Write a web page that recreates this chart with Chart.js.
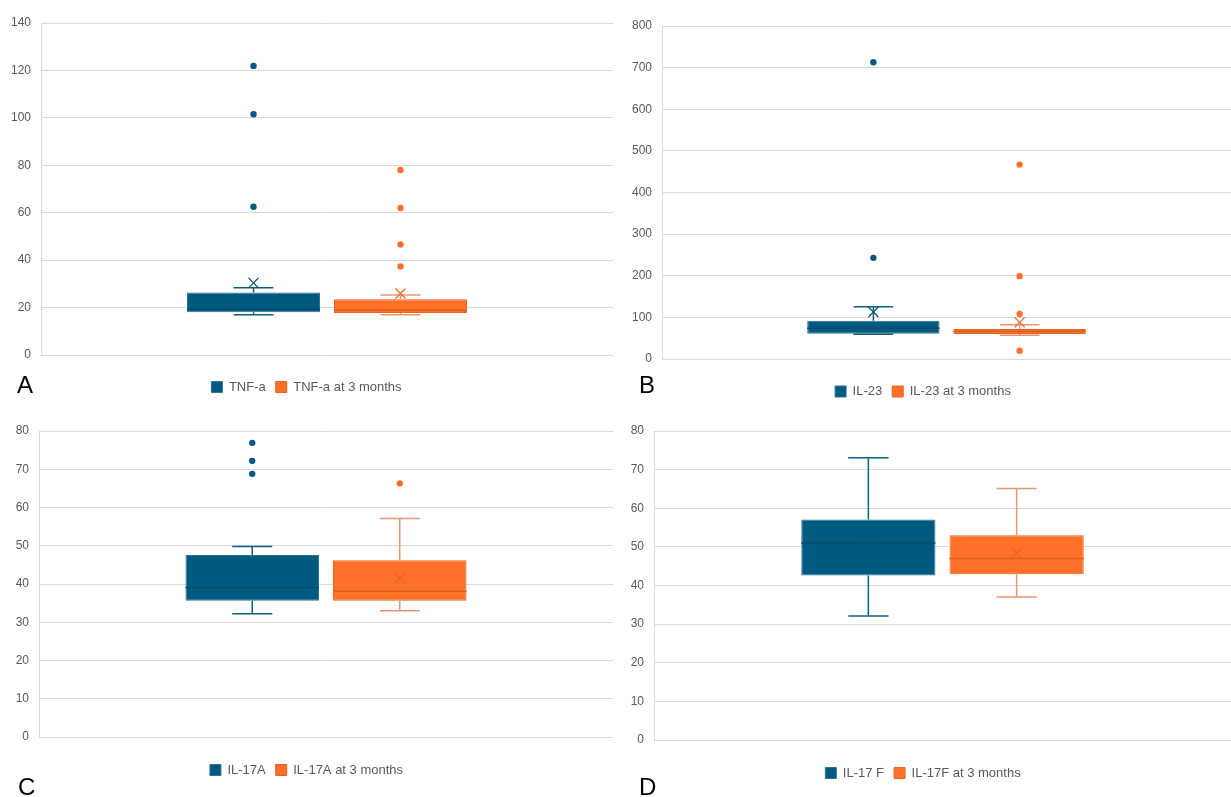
<!DOCTYPE html>
<html>
<head>
<meta charset="utf-8">
<script src="https://cdn.jsdelivr.net/npm/chart.js@4.4.1/dist/chart.umd.min.js"></script>
<style>
  body { margin: 0; background: #fff; width: 1231px; height: 797px; overflow: hidden; position: relative; }
  .panel { position: absolute; }
  .letter { position: absolute; font: 24px "Liberation Sans", Arial, sans-serif; line-height: 24px; color: #000; }
</style>
</head>
<body>
<div class="panel" style="left:0;top:0;width:615px;height:408px"><canvas id="chartA"></canvas></div>
<div class="panel" style="left:615px;top:0;width:616px;height:408px"><canvas id="chartB"></canvas></div>
<div class="panel" style="left:0;top:400px;width:615px;height:397px"><canvas id="chartC"></canvas></div>
<div class="panel" style="left:615px;top:400px;width:616px;height:397px"><canvas id="chartD"></canvas></div>
<div class="letter" style="left:17px;top:373px">A</div>
<div class="letter" style="left:639px;top:373px">B</div>
<div class="letter" style="left:18px;top:775px">C</div>
<div class="letter" style="left:639px;top:775px">D</div>
<script>
// A: TNF-a
const tnfLabels = ['TNF-a', 'TNF-a at 3 months'];
const tnfMin = [17.0, 17.0];
const tnfQ1 = [18.0, 17.7];
const tnfMedian = [19.4, 18.9];
const tnfQ3 = [26.4, 23.5];
const tnfMax = [28.4, 25.3];
const tnfMean = [30.4, 25.9];
const tnfOutliers = [[62.5, 101.5, 121.9], [37.3, 46.6, 62.0, 78.0]];

// B: IL-23
const il23Labels = ['IL-23', 'IL-23 at 3 months'];
const il23Min = [59.2, 56.8];
const il23Q1 = [60.8, 60.0];
const il23Median = [73.6, 66.4];
const il23Q3 = [92.0, 72.0];
const il23Max = [125.6, 82.4];
const il23Mean = [112.8, 88.0];
const il23Outliers = [[243, 713], [20, 108, 199, 467]];

// C: IL-17A
const il17aLabels = ['IL-17A', 'IL-17A at 3 months'];
const il17aMin = [32.2, 33.0];
const il17aQ1 = [35.6, 35.6];
const il17aMedian = [39.1, 38.1];
const il17aQ3 = [47.6, 46.2];
const il17aMax = [49.8, 57.1];
const il17aMean = [43.6, 41.5];
const il17aOutliers = [[68.8, 72.2, 76.9], [66.3]];

// D: IL-17F
const il17fLabels = ['IL-17 F', 'IL-17F at 3 months'];
const il17fMin = [32.1, 37.0];
const il17fQ1 = [42.6, 42.9];
const il17fMedian = [51.0, 47.0];
const il17fQ3 = [57.1, 53.0];
const il17fMax = [73.1, 65.1];
const il17fMean = [51.1, 48.4];
const il17fOutliers = [[], []];

const fills = ['#005A7F', '#FF7028'];
const edges = ['#2a7696', '#e9621f'];
const whiskerColors = ['#0f5f80', '#e99670'];
const medianColors = ['#0a4a68', '#de5f22'];
const meanColors = ['#0a5677', '#e4662a'];
const tickFont = { family: '"Liberation Sans", Arial, sans-serif', size: 12 };
const legendFont = { family: '"Liberation Sans", Arial, sans-serif', size: 13 };

// whiskers, medians, means and outliers drawn on top of the floating bars
const boxPlotPlugin = {
    id: 'boxPlot',
    afterDatasetsDraw(chart) {
        const ctx = chart.ctx;
        const y = chart.scales.y;
        chart.data.datasets.forEach((ds, i) => {
            const bar = chart.getDatasetMeta(i).data[0];
            const b = ds.box;
            const x = bar.x;
            const half = bar.width / 2;
            const cap = bar.width * 0.15;
            ctx.save();
            ctx.lineWidth = 1.5;
            ctx.strokeStyle = whiskerColors[i];
            ctx.beginPath();
            ctx.moveTo(x, y.getPixelForValue(b.q3));
            ctx.lineTo(x, y.getPixelForValue(b.max));
            ctx.moveTo(x - cap, y.getPixelForValue(b.max));
            ctx.lineTo(x + cap, y.getPixelForValue(b.max));
            ctx.moveTo(x, y.getPixelForValue(b.q1));
            ctx.lineTo(x, y.getPixelForValue(b.min));
            ctx.moveTo(x - cap, y.getPixelForValue(b.min));
            ctx.lineTo(x + cap, y.getPixelForValue(b.min));
            ctx.stroke();

            ctx.strokeStyle = medianColors[i];
            ctx.beginPath();
            ctx.moveTo(x - half, y.getPixelForValue(b.median));
            ctx.lineTo(x + half, y.getPixelForValue(b.median));
            ctx.stroke();

            const my = y.getPixelForValue(b.mean);
            ctx.strokeStyle = meanColors[i];
            ctx.lineWidth = 1.3;
            ctx.beginPath();
            ctx.moveTo(x - 5, my - 5);
            ctx.lineTo(x + 5, my + 5);
            ctx.moveTo(x + 5, my - 5);
            ctx.lineTo(x - 5, my + 5);
            ctx.stroke();

            ctx.fillStyle = fills[i];
            b.outliers.forEach(v => {
                ctx.beginPath();
                ctx.arc(x, y.getPixelForValue(v), 3.2, 0, Math.PI * 2);
                ctx.fill();
            });
            ctx.restore();
        });
    }
};

function makeBoxChart(id, labels, mins, q1s, medians, q3s, maxs, means, outliers, yMax, yStep, lay) {
    // legend is 10 + 13 + 10 px tall, its items sit 16.5 px below its top
    const xHeight = lay.legendY - lay.plotBottom - 16.5;
    const padBottom = lay.height - lay.plotBottom - xHeight - 33;
    const datasets = labels.map((label, i) => ({
        label: label,
        data: [[q1s[i], q3s[i]]],
        backgroundColor: fills[i],
        borderColor: edges[i],
        borderWidth: 1,
        borderSkipped: false,
        categoryPercentage: 0.514,
        barPercentage: 0.905,
        box: { min: mins[i], q1: q1s[i], median: medians[i], q3: q3s[i], max: maxs[i], mean: means[i], outliers: outliers[i] }
    }));
    return new Chart(document.getElementById(id), {
        type: 'bar',
        data: { labels: [''], datasets: datasets },
        options: {
            responsive: true,
            maintainAspectRatio: false,
            animation: false,
            layout: { padding: { top: lay.top, right: lay.right, bottom: padBottom, left: 0 } },
            scales: {
                x: {
                    grid: { display: false },
                    border: { display: false },
                    ticks: { display: false },
                    afterFit: s => { s.height = xHeight; }
                },
                y: {
                    min: 0,
                    max: yMax,
                    ticks: { stepSize: yStep, color: '#595959', font: tickFont, padding: 10 },
                    grid: { color: '#d9d9d9', drawTicks: false },
                    border: { color: '#d9d9d9' },
                    afterFit: s => { s.width = lay.left; }
                }
            },
            plugins: {
                legend: {
                    position: 'bottom',
                    labels: { boxWidth: 11, boxHeight: 11, padding: 10, color: '#595959', font: legendFont }
                },
                tooltip: { enabled: false }
            }
        },
        plugins: [boxPlotPlugin]
    });
}

makeBoxChart('chartA', tnfLabels, tnfMin, tnfQ1, tnfMedian, tnfQ3, tnfMax, tnfMean, tnfOutliers, 140, 20,
    { left: 41, top: 23, right: 2, plotBottom: 355, legendY: 387, height: 408 });
makeBoxChart('chartB', il23Labels, il23Min, il23Q1, il23Median, il23Q3, il23Max, il23Mean, il23Outliers, 800, 100,
    { left: 47, top: 26, right: 0, plotBottom: 359, legendY: 391.5, height: 408 });
makeBoxChart('chartC', il17aLabels, il17aMin, il17aQ1, il17aMedian, il17aQ3, il17aMax, il17aMean, il17aOutliers, 80, 10,
    { left: 39, top: 31, right: 2, plotBottom: 337, legendY: 370, height: 397 });
makeBoxChart('chartD', il17fLabels, il17fMin, il17fQ1, il17fMedian, il17fQ3, il17fMax, il17fMean, il17fOutliers, 80, 10,
    { left: 39, top: 31, right: 0, plotBottom: 340, legendY: 373, height: 397 });
</script>
</body>
</html>
